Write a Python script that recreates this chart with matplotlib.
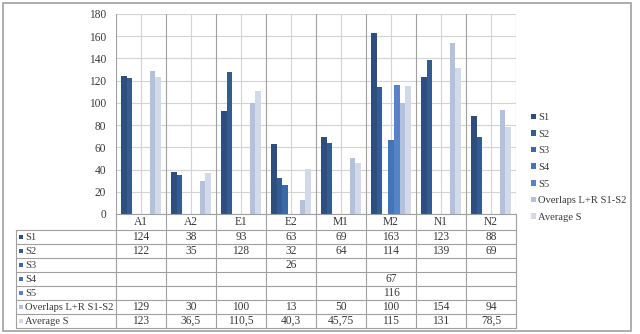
import matplotlib
matplotlib.use("Agg")
import matplotlib.pyplot as plt
import matplotlib.transforms as mtrans
from matplotlib.lines import Line2D
from matplotlib.patches import Rectangle

categories = ["A1", "A2", "E1", "E2", "M1", "M2", "N1", "N2"]
series_names = ["S1", "S2", "S3", "S4", "S5", "Overlaps L+R S1-S2", "Average S"]
s1 = [124, 38, 93, 63, 69, 163, 123, 88]
s2 = [122, 35, 128, 32, 64, 114, 139, 69]
s3 = [None, None, None, 26, None, None, None, None]
s4 = [None, None, None, None, None, 67, None, None]
s5 = [None, None, None, None, None, 116, None, None]
overlaps = [129, 30, 100, 13, 50, 100, 154, 94]
average_s = [123, 36.5, 110.5, 40.3, 45.75, 115, 131, 78.5]
series = [s1, s2, s3, s4, s5, overlaps, average_s]
colors = ["#2e4e7e", "#345c93", "#3b68a6", "#4474b6", "#5484c6", "#b3c1dc", "#d2daea"]
yticks = [0, 20, 40, 60, 80, 100, 120, 140, 160, 180]

plt.rcParams['font.family'] = ['Liberation Serif', 'DejaVu Serif']
W, H = 640, 334
fig = plt.figure(figsize=(W / 100, H / 100), dpi=100)
FS = 7.6
TC = "#3a3a3a"

def fx(px):
    return px / W

def fy(py):
    return 1 - py / H

L, R, T, B = 116, 516, 14, 214
ax = fig.add_axes([fx(L), fy(B), fx(R) - fx(L), fy(T) - fy(B)])
n = len(categories)
ax.set_xlim(-0.5, n - 0.5)
ax.set_ylim(0, 180)

# gridlines
for y in yticks:
    ax.axhline(y, color="#d4d4d4", lw=0.8, zorder=0)
for i in range(n):
    ax.axvline(i, color="#d4d4d4", lw=0.8, zorder=0)
for i in range(n + 1):
    ax.axvline(i - 0.5, color="#a0a0a0", lw=0.8, zorder=0)

w = 0.112
step = 0.115
for k, (vals, c) in enumerate(zip(series, colors)):
    xs, hs = [], []
    for i, v in enumerate(vals):
        if v is not None:
            xs.append(i + (k - 3) * step)
            hs.append(v)
    ax.bar(xs, hs, width=w, color=c, zorder=2, label=series_names[k])

ax.set_yticks(yticks)
ax.set_yticklabels([str(t) for t in yticks], fontsize=8.3, color=TC)
ax.set_xticks([])
ax.tick_params(axis="y", length=0, pad=7)
for sp in ax.spines.values():
    sp.set_visible(False)

# legend
leg = ax.legend(loc="center left", frameon=False, fontsize=FS, handlelength=0.45, handleheight=0.45,
                handletextpad=0.25, labelspacing=0.72, borderaxespad=0, borderpad=0)
leg.set_bbox_to_anchor((fx(531), fy(167.5)), transform=fig.transFigure)
for t in leg.get_texts():
    t.set_color(TC)

# data table
bt = mtrans.blended_transform_factory(ax.transData, fig.transFigure)
row_lines = [230, 244, 258, 272, 286, 300, 314, 328]
table_left = 16
gc = "#a0a0a0"
for i, c in enumerate(categories):
    fig.text(i, fy(222), c, transform=bt, ha="center", va="center", fontsize=8.3, color=TC)
for i in range(n + 1):
    fig.add_artist(Line2D([i - 0.5, i - 0.5], [fy(B), fy(row_lines[-1])], transform=bt, color=gc, lw=0.8))
fig.add_artist(Line2D([fx(table_left), fx(table_left)], [fy(row_lines[0]), fy(row_lines[-1])],
                      transform=fig.transFigure, color=gc, lw=0.8))
fig.add_artist(Line2D([fx(L), fx(R)], [fy(B), fy(B)], transform=fig.transFigure, color=gc, lw=0.8))
for ry in row_lines:
    fig.add_artist(Line2D([fx(table_left), fx(R)], [fy(ry), fy(ry)], transform=fig.transFigure, color=gc, lw=0.8))

def fmt(v):
    if v is None:
        return ""
    if float(v).is_integer():
        return str(int(v))
    return ("%g" % v).replace(".", ",")

for k, (vals, c, name) in enumerate(zip(series, colors, series_names)):
    cy = (row_lines[k] + row_lines[k + 1]) / 2
    fig.add_artist(Rectangle((fx(19), fy(cy + 2)), fx(4), 4 / H, transform=fig.transFigure,
                             facecolor=c, edgecolor="none"))
    fig.text(fx(25), fy(cy), name, ha="left", va="center", fontsize=FS, color=TC)
    for i, v in enumerate(vals):
        s = fmt(v)
        if s:
            fig.text(i, fy(cy), s, transform=bt, ha="center", va="center", fontsize=8.3, color=TC)

# outer border
fig.add_artist(Rectangle((fx(3), fy(331)), fx(628), 328 / H, transform=fig.transFigure,
                         facecolor="none", edgecolor="#a0a0a0", lw=1.2))

fig.savefig("out.png", dpi=100)
